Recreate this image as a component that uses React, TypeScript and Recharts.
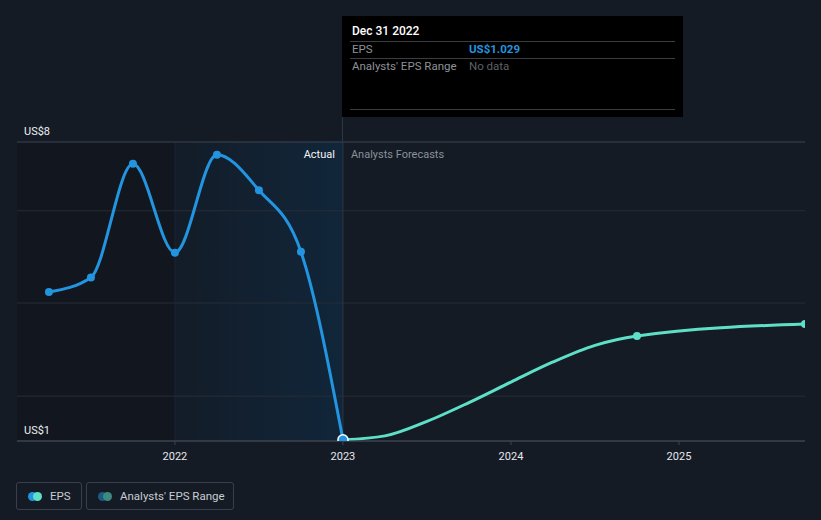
import React from 'react';
import { ComposedChart, Line, XAxis, YAxis, ReferenceLine, ReferenceArea } from 'recharts';

// dates as decimal years (quarter ends)
const actualDates = [2021.25, 2021.5, 2021.75, 2022.0, 2022.25, 2022.5, 2022.75, 2023.0];
const actualEps = [4.49, 4.83, 7.49, 5.41, 7.7, 6.87, 5.43, 1.029];

const forecastDates = [2023.0, 2023.25, 2023.5, 2023.75, 2024.0, 2024.25, 2024.5, 2024.75, 2025.75];
const forecastEps = [1.029, 1.12, 1.46, 1.9, 2.38, 2.85, 3.24, 3.46, 3.74];
const forecastMarkers = [2024.75, 2025.75];

const yearTicks = [2022, 2023, 2024, 2025];
const gridValues = [2.05, 4.23, 6.39];
const yLabels = [
  { value: 8, text: 'US$8' },
  { value: 1, text: 'US$1' },
];

const BG = '#151b25';
const BLUE = '#2394df';
const TEAL = '#5ee0c8';
const FONT = 'Roboto, "Noto Sans", sans-serif';

const tableMap = new Map<number, { t: number; eps?: number; forecast?: number }>();
actualDates.forEach((t, i) => tableMap.set(t, { ...(tableMap.get(t) || { t }), eps: actualEps[i] }));
forecastDates.forEach((t, i) => tableMap.set(t, { ...(tableMap.get(t) || { t }), forecast: forecastEps[i] }));
const data = Array.from(tableMap.values()).sort((a, b) => a.t - b.t);

const EpsDot = (props: any) => {
  const { cx, cy, payload, index } = props;
  if (cx == null || cy == null || payload.eps == null) return <g key={`e${index}`} />;
  if (payload.t === 2023) {
    return <circle key={`e${index}`} cx={cx} cy={cy} r={5} fill={BLUE} stroke="#fff" strokeWidth={1.5} />;
  }
  return <circle key={`e${index}`} cx={cx} cy={cy} r={4} fill={BLUE} />;
};

const ForecastDot = (props: any) => {
  const { cx, cy, payload, index } = props;
  if (cx == null || cy == null || !forecastMarkers.includes(payload.t)) return <g key={`f${index}`} />;
  return <circle key={`f${index}`} cx={cx} cy={cy} r={4} fill={TEAL} />;
};

const YearTick = (props: any) => {
  const { x, y, payload } = props;
  return (
    <text x={x} y={y + 13} textAnchor="middle" fill="#e6e8eb" fontSize={11} fontFamily={FONT}>
      {payload.value}
    </text>
  );
};

export default function App() {
  return (
    <div style={{ position: 'absolute', left: 0, top: 0, width: 821, height: 520, background: BG, fontFamily: FONT }}>
      <ComposedChart width={821} height={480} data={data} margin={{ top: 142, right: 16, bottom: 0, left: 17 }}>
        <defs>
          <linearGradient id="actualShade" x1="0" y1="0" x2="1" y2="0">
            <stop offset="0%" stopColor="#131c28" />
            <stop offset="100%" stopColor="#11263a" />
          </linearGradient>
        </defs>
        <XAxis
          type="number"
          dataKey="t"
          domain={[2021.06, 2025.75]}
          ticks={yearTicks}
          height={39}
          stroke="#3d4450"
          tickSize={4}
          tick={<YearTick />}
          allowDataOverflow
        />
        <YAxis type="number" hide domain={[1, 8]} allowDataOverflow />
        <ReferenceArea x1={2021.06} x2={2022} y1={1} y2={8} fill="#12161e" fillOpacity={1} stroke="none" />
        <ReferenceArea x1={2022} x2={2023} y1={1} y2={8} fill="url(#actualShade)" fillOpacity={1} stroke="none" />
        <ReferenceLine x={2022} stroke="#1c2633" strokeWidth={1} />
        {gridValues.map(v => (
          <ReferenceLine key={v} y={v} stroke="#272d37" strokeWidth={1} />
        ))}
        {yLabels.map(l => (
          <ReferenceLine
            key={l.text}
            y={l.value}
            stroke="#3d4450"
            strokeWidth={1}
            label={(p: any) => (
              <text x={24} y={(p.viewBox?.y ?? 0) - 7} fill="#eef0f2" fontSize={11} fontFamily={FONT}>
                {l.text}
              </text>
            )}
          />
        ))}
        <ReferenceLine
          x={2023}
          stroke="#2c3644"
          strokeWidth={1}
          label={(p: any) => {
            const x = p.viewBox?.x ?? 343;
            const y = p.viewBox?.y ?? 142;
            return (
              <g>
                <text x={x - 8} y={y + 16} textAnchor="end" fill="#f2f3f5" fontSize={11} fontFamily={FONT}>Actual</text>
                <text x={x + 8} y={y + 16} textAnchor="start" fill="#8b9099" fontSize={11} fontFamily={FONT}>Analysts Forecasts</text>
              </g>
            );
          }}
        />
        <Line
          type="monotone"
          dataKey="forecast"
          stroke={TEAL}
          strokeWidth={3}
          dot={<ForecastDot />}
          activeDot={false}
          connectNulls
          isAnimationActive={false}
        />
        <Line
          type="monotone"
          dataKey="eps"
          stroke={BLUE}
          strokeWidth={3}
          dot={<EpsDot />}
          activeDot={false}
          connectNulls
          isAnimationActive={false}
        />
      </ComposedChart>

      {/* cursor line above the plot */}
      <div style={{ position: 'absolute', left: 342, top: 16, width: 1, height: 127, background: '#2c3644' }} />

      {/* tooltip */}
      <div style={{ position: 'absolute', left: 342, top: 16, width: 341, height: 101, background: '#000' }}>
        <div style={{ position: 'absolute', left: 10, top: 8, fontSize: 12, color: '#fff', fontWeight: 500 }}>Dec 31 2022</div>
        <div style={{ position: 'absolute', left: 8, right: 8, top: 25, height: 1, background: '#3a3d42' }} />
        <div style={{ position: 'absolute', left: 10, top: 26, fontSize: 11.5, color: '#8e9197' }}>EPS</div>
        <div style={{ position: 'absolute', left: 127, top: 26, fontSize: 11.5, color: BLUE, fontWeight: 700 }}>US$1.029</div>
        <div style={{ position: 'absolute', left: 8, right: 8, top: 42, height: 1, background: '#3a3d42' }} />
        <div style={{ position: 'absolute', left: 10, top: 43, fontSize: 11.5, color: '#8e9197' }}>Analysts' EPS Range</div>
        <div style={{ position: 'absolute', left: 127, top: 43, fontSize: 11.5, color: '#5e6167' }}>No data</div>
        <div style={{ position: 'absolute', left: 8, right: 8, top: 93, height: 1, background: '#3a3d42' }} />
      </div>

      {/* legend */}
      <div style={{ position: 'absolute', left: 16, top: 482, width: 64, height: 26, border: '1px solid #3a404b', borderRadius: 3 }}>
        <span style={{ position: 'absolute', left: 11, top: 9, width: 9, height: 9, borderRadius: 5, background: BLUE }} />
        <span style={{ position: 'absolute', left: 16, top: 9, width: 9, height: 9, borderRadius: 5, background: TEAL }} />
        <span style={{ position: 'absolute', left: 33, top: 6, fontSize: 11.5, color: '#c9ccd1' }}>EPS</span>
      </div>
      <div style={{ position: 'absolute', left: 86, top: 482, width: 146, height: 26, border: '1px solid #3a404b', borderRadius: 3 }}>
        <span style={{ position: 'absolute', left: 11, top: 9, width: 9, height: 9, borderRadius: 5, background: '#1f5a86' }} />
        <span style={{ position: 'absolute', left: 16, top: 9, width: 9, height: 9, borderRadius: 5, background: '#3d8a80' }} />
        <span style={{ position: 'absolute', left: 33, top: 6, fontSize: 11.5, color: '#c9ccd1' }}>Analysts' EPS Range</span>
      </div>
    </div>
  );
}
